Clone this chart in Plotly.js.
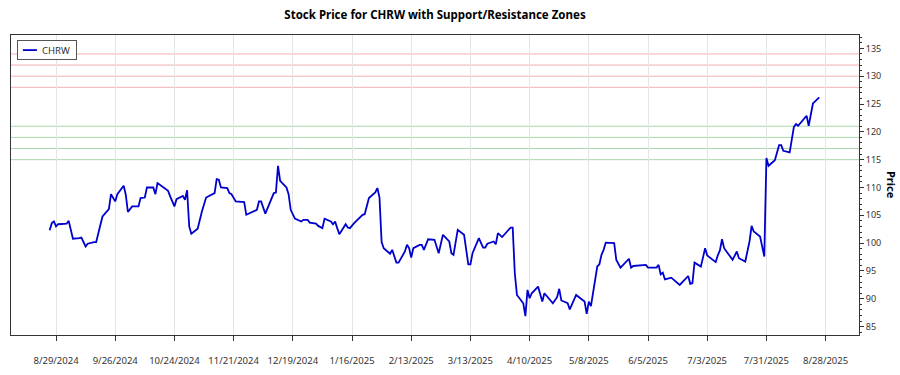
<!DOCTYPE html>
<html><head><meta charset="utf-8">
<script src="https://cdn.plot.ly/plotly-3.0.1.min.js"></script>
<style>html,body{margin:0;padding:0;background:#fff;} #chart{width:900px;height:375px;}</style>
</head><body><div id="chart"></div>
<script>
const dates = [
'2024-08-26','2024-08-27','2024-08-28','2024-08-29','2024-08-30','2024-09-03','2024-09-04','2024-09-06','2024-09-09','2024-09-10',
'2024-09-12','2024-09-13','2024-09-16','2024-09-17','2024-09-19','2024-09-20','2024-09-23','2024-09-24','2024-09-26','2024-09-27',
'2024-09-30','2024-10-01','2024-10-02','2024-10-04','2024-10-07','2024-10-08','2024-10-10','2024-10-11','2024-10-14','2024-10-15',
'2024-10-16','2024-10-17','2024-10-21','2024-10-22','2024-10-24','2024-10-25','2024-10-28','2024-10-29','2024-10-30','2024-10-31',
'2024-11-01','2024-11-04','2024-11-06','2024-11-08','2024-11-11','2024-11-12','2024-11-13','2024-11-14','2024-11-15','2024-11-18',
'2024-11-19','2024-11-20','2024-11-22','2024-11-25','2024-11-26','2024-11-27','2024-12-02','2024-12-03','2024-12-04','2024-12-06',
'2024-12-10','2024-12-11','2024-12-12','2024-12-13','2024-12-16','2024-12-17','2024-12-18','2024-12-20','2024-12-23','2024-12-24',
'2024-12-26','2024-12-27','2024-12-30','2024-12-31','2025-01-02','2025-01-03','2025-01-06','2025-01-07','2025-01-08','2025-01-09',
'2025-01-10','2025-01-13','2025-01-14','2025-01-15','2025-01-17','2025-01-21','2025-01-22','2025-01-24','2025-01-27','2025-01-28',
'2025-01-29','2025-01-30','2025-01-31','2025-02-03','2025-02-04','2025-02-06','2025-02-07','2025-02-10','2025-02-11','2025-02-12',
'2025-02-13','2025-02-14','2025-02-17','2025-02-18','2025-02-19','2025-02-21','2025-02-24','2025-02-26','2025-02-28','2025-03-03',
'2025-03-04','2025-03-05','2025-03-07','2025-03-10','2025-03-12','2025-03-13','2025-03-14','2025-03-17','2025-03-19','2025-03-20',
'2025-03-21','2025-03-24','2025-03-25','2025-03-26','2025-03-28','2025-04-01','2025-04-02','2025-04-03','2025-04-04','2025-04-07',
'2025-04-08','2025-04-09','2025-04-10','2025-04-11','2025-04-14','2025-04-16','2025-04-17','2025-04-21','2025-04-23','2025-04-24',
'2025-04-25','2025-04-28','2025-04-29','2025-05-02','2025-05-05','2025-05-06','2025-05-07','2025-05-08','2025-05-09','2025-05-12',
'2025-05-13','2025-05-14','2025-05-15','2025-05-16','2025-05-20','2025-05-21','2025-05-23','2025-05-27','2025-05-28','2025-05-29',
'2025-06-04','2025-06-05','2025-06-09','2025-06-10','2025-06-11','2025-06-12','2025-06-13','2025-06-16','2025-06-20','2025-06-24',
'2025-06-25','2025-06-26','2025-06-27','2025-06-30','2025-07-01','2025-07-02','2025-07-03','2025-07-07','2025-07-08','2025-07-09',
'2025-07-10','2025-07-11','2025-07-15','2025-07-17','2025-07-18','2025-07-21','2025-07-23','2025-07-24','2025-07-25','2025-07-28',
'2025-07-30','2025-07-31','2025-08-01','2025-08-04','2025-08-06','2025-08-07','2025-08-08','2025-08-11','2025-08-13','2025-08-14',
'2025-08-15','2025-08-18','2025-08-19','2025-08-20','2025-08-22','2025-08-25'];
const prices = [
102.3,103.6,103.9,103.0,103.4,103.5,104.0,100.8,100.9,101.0,
99.4,99.9,100.2,100.2,103.3,104.8,106.1,108.8,107.5,108.8,
110.3,108.7,105.6,106.6,106.6,108.1,108.2,110.0,110.0,108.8,
110.8,110.5,109.4,108.4,106.6,107.9,108.5,107.8,109.5,103.0,
101.7,102.6,105.7,108.2,108.8,109.0,111.5,111.4,110.0,109.9,
109.0,108.8,107.5,107.5,107.4,105.1,106.0,107.5,107.5,105.3,
109.0,109.1,113.9,111.2,110.0,108.8,106.0,104.4,103.9,104.2,
104.2,103.7,103.5,103.1,102.7,104.4,103.9,103.4,103.9,102.7,
101.6,103.4,102.8,102.7,103.6,105.1,105.2,108.1,109.1,109.9,
108.2,100.2,99.1,98.1,98.8,96.5,96.5,98.5,99.7,99.1,
97.4,99.1,99.7,99.7,98.8,100.7,100.6,98.2,101.5,100.3,
98.2,97.9,102.4,101.5,96.2,96.2,98.2,100.9,99.2,99.2,
99.9,100.3,99.8,101.8,101.1,102.8,102.8,94.6,90.7,89.2,
86.9,91.6,90.1,91.0,92.2,89.5,91.0,89.2,90.3,91.8,
89.7,89.2,88.1,90.7,89.8,89.5,87.3,89.5,88.7,95.8,
96.2,97.9,98.8,100.1,100.0,97.0,95.6,97.2,95.6,95.9,
96.1,95.6,95.6,96.1,94.4,94.7,93.5,93.8,92.5,94.1,
92.7,92.8,96.5,95.8,97.4,99.1,97.8,96.6,97.8,98.7,
100.7,99.1,97.0,98.5,97.3,96.7,100.3,103.1,102.1,101.2,
97.6,115.3,113.9,114.9,117.6,117.6,116.6,116.3,120.9,121.4,
121.1,122.4,122.9,121.1,125.1,126.2];

const resistanceLevels = [128, 130, 132, 134];
const supportLevels = [115, 117, 119, 121];

const tickDates = ['2024-08-29','2024-09-26','2024-10-24','2024-11-21','2024-12-19','2025-01-16','2025-02-13',
  '2025-03-13','2025-04-10','2025-05-08','2025-06-05','2025-07-03','2025-07-31','2025-08-28'];
const tickLabels = ['8/29/2024','9/26/2024','10/24/2024','11/21/2024','12/19/2024','1/16/2025','2/13/2025',
  '3/13/2025','4/10/2025','5/8/2025','6/5/2025','7/3/2025','7/31/2025','8/28/2025'];

const FONT = 'Noto Sans, Open Sans, sans-serif';

const shapes = [];
resistanceLevels.forEach(v => shapes.push({type:'line', xref:'paper', x0:0, x1:1, yref:'y', y0:v, y1:v,
  line:{color:'rgba(240,150,150,0.75)', width:1}, layer:'below'}));
supportLevels.forEach(v => shapes.push({type:'line', xref:'paper', x0:0, x1:1, yref:'y', y0:v, y1:v,
  line:{color:'rgba(140,200,140,0.75)', width:1}, layer:'below'}));

const trace = {
  x: dates, y: prices, type:'scatter', mode:'lines', name:'CHRW',
  line:{color:'#0000cd', width:1.8}
};

const layout = {
  width:900, height:375,
  margin:{l:11, r:41, t:35, b:40},
  paper_bgcolor:'#fff', plot_bgcolor:'#fff',
  font:{family:FONT, size:10, color:'#333'},
  title:{text:'<b>Stock Price for CHRW with Support/Resistance Zones</b>', x:0.5, xref:'paper', xanchor:'center',
    y:0.96, yref:'container', yanchor:'middle', font:{family:FONT, size:11.5, color:'#000'}},
  showlegend:true,
  legend:{x:0.007, y:0.983, xanchor:'left', yanchor:'top', bgcolor:'#fff', bordercolor:'#555', borderwidth:1,
    font:{family:FONT, size:9.5, color:'#333'}, itemwidth:30},
  xaxis:{type:'date', range:['2024-08-07 17:00','2025-09-12 19:00'],
    tickmode:'array', tickvals:tickDates, ticktext:tickLabels,
    ticks:'outside', ticklen:5, tickcolor:'#333', ticklabelstandoff:12,
    showgrid:true, gridcolor:'#e4e4e4', gridwidth:1,
    showline:true, linecolor:'#333', linewidth:1, mirror:true, zeroline:false,
    tickfont:{family:FONT, size:9.5, color:'#333'}},
  yaxis:{side:'right', range:[83.5,137.4], tick0:85, dtick:5,
    ticks:'outside', ticklen:4, tickcolor:'#333',
    minor:{ticks:'outside', ticklen:2, dtick:1, tickcolor:'#333', showgrid:false},
    showgrid:false, zeroline:false, showline:true, linecolor:'#333', linewidth:1, mirror:true,
    tickfont:{family:FONT, size:9, color:'#333'}},
  shapes: shapes,
  annotations:[{text:'<b>Price</b>', xref:'paper', yref:'paper', x:1.039, y:0.5, xanchor:'center', yanchor:'middle',
    textangle:90, showarrow:false, font:{family:FONT, size:11, color:'#000'}}]
};

Plotly.newPlot('chart', [trace], layout, {displayModeBar:false, staticPlot:true}).then(gd => {
  // compact legend box like the reference (short line sample, tight box)
  const lg = gd.querySelector('.legend');
  if (!lg) return;
  lg.querySelectorAll('.legendlines path').forEach(p => p.setAttribute('d', 'M5,0h14'));
  lg.querySelectorAll('.legendtext').forEach(t => t.setAttribute('x', '24'));
  const tr = lg.querySelector('.traces');
  if (tr) tr.setAttribute('transform', 'translate(1,10)');
  const bg = lg.querySelector('.bg');
  if (bg) { bg.setAttribute('width', '59'); bg.setAttribute('height', '19'); }
});
</script></body></html>
